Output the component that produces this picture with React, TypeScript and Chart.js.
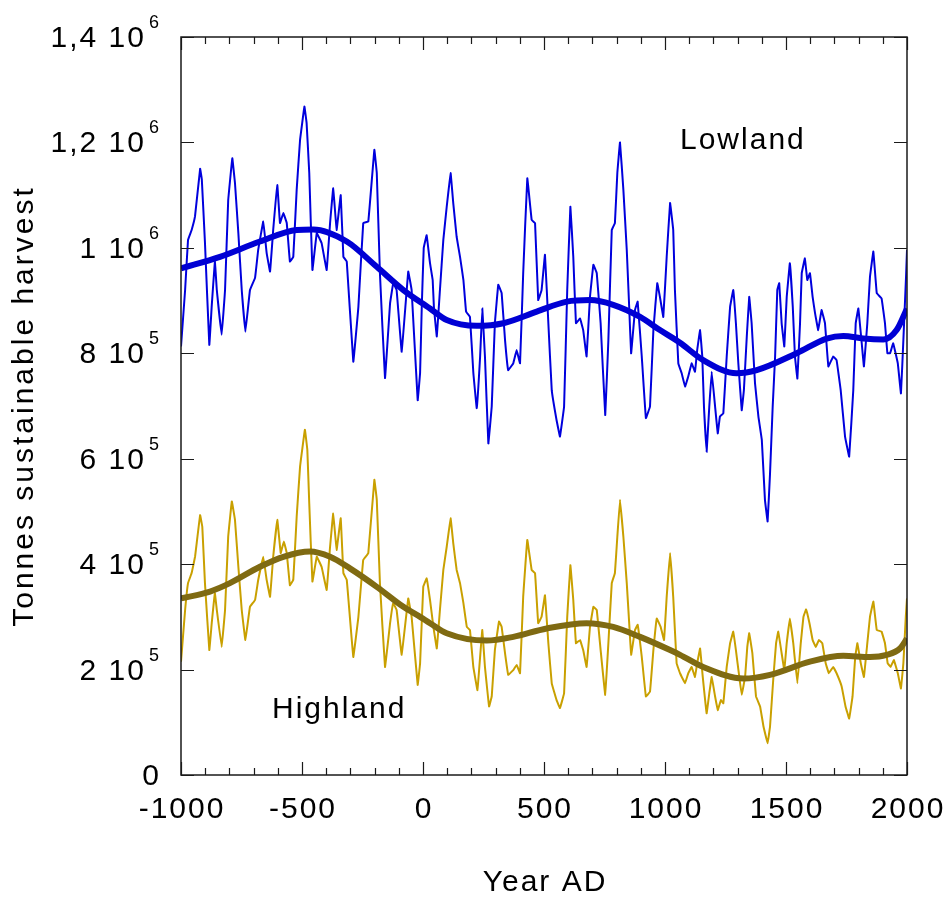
import { useEffect, useRef } from 'react';
import { Chart, registerables } from 'chart.js';

Chart.register(...registerables);

// Values in units of 1e5 tonnes
const LOWLAND: [number, number][] = [
  [-1000, 8.13], [-983, 9.2], [-971, 10.15], [-956, 10.34], [-942, 10.6], [-921, 11.5], [-914, 11.3], [-901, 10.1],
  [-883, 8.16], [-873, 8.9], [-860, 9.74], [-852, 9.2], [-832, 8.35], [-818, 9.2], [-805, 10.9], [-788, 11.7],
  [-777, 11.23], [-763, 10.28], [-749, 9.2], [-734, 8.41], [-715, 9.2], [-694, 9.43], [-681, 9.96], [-660, 10.5],
  [-646, 9.9], [-632, 9.55], [-619, 10.34], [-602, 11.19], [-591, 10.47], [-577, 10.66], [-563, 10.47], [-550, 9.74],
  [-536, 9.83], [-522, 11.1], [-508, 12.05], [-490, 12.68], [-481, 12.37], [-470, 11.42], [-457, 9.58], [-439, 10.28],
  [-419, 10.09], [-398, 9.58], [-384, 10.47], [-371, 11.13], [-357, 10.34], [-340, 11.0], [-329, 9.83], [-315, 9.74],
  [-288, 7.84], [-267, 8.88], [-247, 10.47], [-226, 10.5], [-201, 11.86], [-191, 11.42], [-178, 9.52], [-157, 7.53],
  [-136, 8.95], [-123, 9.33], [-109, 9.2], [-88, 8.03], [-61, 9.55], [-47, 9.2], [-22, 7.11], [-12, 7.63],
  [-5, 8.9], [3, 10.0], [15, 10.24], [29, 9.71], [40, 9.39], [45, 8.88], [57, 8.32], [70, 9.2],
  [84, 10.15], [98, 10.78], [114, 11.42], [125, 10.85], [139, 10.21], [153, 9.83], [167, 9.39], [178, 8.79],
  [194, 8.69], [208, 7.63], [222, 6.96], [236, 7.94], [245, 8.85], [256, 7.94], [270, 6.29], [284, 6.99],
  [297, 8.57], [311, 9.3], [325, 9.14], [339, 8.25], [352, 7.68], [373, 7.81], [387, 8.06], [401, 7.81],
  [414, 9.52], [431, 11.32], [449, 10.53], [463, 10.47], [476, 9.01], [490, 9.2], [504, 9.87], [518, 8.57],
  [532, 7.3], [552, 6.73], [566, 6.42], [583, 6.99], [596, 9.2], [609, 10.78], [621, 9.83], [632, 8.57],
  [649, 8.66], [662, 8.44], [676, 7.94], [690, 9.07], [704, 9.68], [718, 9.52], [734, 8.57], [753, 6.83],
  [766, 8.25], [780, 10.34], [793, 10.47], [803, 11.42], [814, 12.0], [828, 11.1], [842, 9.96], [852, 8.88],
  [860, 8.0], [876, 8.82], [887, 8.98], [904, 7.94], [921, 6.77], [938, 6.99], [952, 8.44], [968, 9.33],
  [979, 9.07], [993, 8.69], [1007, 9.83], [1021, 10.85], [1034, 10.34], [1041, 9.2], [1055, 7.81], [1069, 7.62],
  [1083, 7.37], [1096, 7.56], [1110, 7.81], [1124, 7.65], [1133, 8.06], [1145, 8.44], [1154, 7.94], [1161, 6.99],
  [1172, 6.13], [1183, 6.99], [1193, 7.65], [1207, 6.99], [1218, 6.48], [1227, 6.8], [1241, 6.86], [1255, 7.94],
  [1269, 8.88], [1282, 9.2], [1293, 8.57], [1303, 7.81], [1317, 6.92], [1326, 7.3], [1338, 8.32], [1348, 9.07],
  [1358, 8.57], [1372, 7.43], [1386, 6.8], [1400, 6.36], [1413, 5.22], [1424, 4.81], [1434, 5.72], [1445, 6.99],
  [1455, 7.94], [1464, 9.2], [1472, 9.33], [1482, 8.57], [1493, 8.13], [1503, 9.07], [1516, 9.71], [1528, 8.88],
  [1537, 7.94], [1547, 7.52], [1558, 8.57], [1565, 9.52], [1578, 9.8], [1588, 9.39], [1599, 9.52], [1610, 9.07],
  [1620, 8.76], [1633, 8.44], [1647, 8.82], [1661, 8.57], [1675, 7.75], [1695, 7.94], [1709, 7.87], [1726, 7.3],
  [1744, 6.42], [1761, 6.04], [1778, 7.3], [1788, 8.57], [1799, 8.85], [1813, 8.19], [1822, 7.75], [1836, 8.57],
  [1847, 9.45], [1861, 9.93], [1875, 9.14], [1895, 9.04], [1909, 8.57], [1919, 8.0], [1930, 8.0], [1943, 8.19],
  [1962, 7.81], [1975, 7.24], [1985, 8.25], [1996, 9.45], [2000, 9.96],
];

const LOWLAND_SMOOTH: [number, number][] = [
  [-1000, 9.61], [-839, 9.83], [-674, 10.12], [-522, 10.34], [-453, 10.35], [-315, 10.12], [-191, 9.64], [-81, 9.2],
  [29, 8.85], [98, 8.63], [222, 8.52], [332, 8.57], [470, 8.79], [594, 8.98], [690, 9.01], [786, 8.92],
  [897, 8.69], [979, 8.44], [1062, 8.2], [1158, 7.87], [1296, 7.62], [1379, 7.68], [1544, 8.0], [1668, 8.28],
  [1737, 8.33], [1819, 8.28], [1902, 8.26], [1957, 8.44], [2000, 8.85],
];

const HIGHLAND: [number, number][] = [
  [-1000, 2.15], [-983, 3.13], [-971, 3.64], [-956, 3.83], [-942, 4.14], [-921, 4.93], [-912, 4.71], [-901, 3.64],
  [-883, 2.37], [-873, 2.88], [-860, 3.45], [-852, 3.13], [-832, 2.43], [-818, 3.13], [-805, 4.52], [-790, 5.19],
  [-777, 4.84], [-763, 3.95], [-749, 3.13], [-734, 2.56], [-715, 3.19], [-694, 3.32], [-681, 3.7], [-660, 4.14],
  [-646, 3.7], [-632, 3.38], [-619, 4.14], [-602, 4.84], [-588, 4.21], [-575, 4.43], [-563, 4.21], [-550, 3.6],
  [-536, 3.7], [-522, 4.9], [-508, 5.85], [-488, 6.55], [-478, 6.17], [-470, 5.15], [-457, 3.67], [-439, 4.14],
  [-419, 3.95], [-398, 3.51], [-384, 4.33], [-371, 4.96], [-357, 4.27], [-340, 4.87], [-329, 3.83], [-315, 3.7],
  [-288, 2.24], [-267, 3.0], [-247, 4.08], [-226, 4.21], [-201, 5.6], [-191, 5.22], [-178, 3.64], [-157, 2.05],
  [-136, 2.88], [-123, 3.26], [-109, 3.13], [-88, 2.28], [-61, 3.35], [-47, 3.0], [-22, 1.71], [-12, 2.12],
  [1, 3.57], [15, 3.73], [29, 3.32], [43, 2.81], [57, 2.4], [70, 3.13], [84, 3.89], [98, 4.33],
  [114, 4.87], [125, 4.4], [139, 3.89], [153, 3.64], [167, 3.26], [181, 2.81], [194, 2.75], [208, 2.05],
  [225, 1.61], [236, 2.24], [245, 2.75], [256, 2.05], [273, 1.3], [284, 1.49], [297, 2.37], [314, 2.91],
  [325, 2.81], [339, 2.31], [352, 1.9], [373, 1.99], [387, 2.09], [401, 1.93], [414, 3.38], [431, 4.46],
  [449, 3.89], [463, 3.83], [476, 2.88], [490, 3.0], [504, 3.41], [518, 2.5], [532, 1.74], [552, 1.42],
  [566, 1.27], [583, 1.55], [596, 3.0], [609, 3.98], [621, 3.32], [632, 2.5], [649, 2.56], [662, 2.37],
  [676, 2.05], [690, 2.81], [704, 3.19], [718, 3.13], [734, 2.37], [753, 1.52], [766, 2.5], [780, 3.64],
  [793, 3.83], [803, 4.52], [814, 5.22], [828, 4.52], [842, 3.64], [852, 2.88], [860, 2.28], [876, 2.75],
  [887, 2.85], [904, 2.24], [921, 1.49], [938, 1.58], [952, 2.37], [966, 2.97], [982, 2.81], [996, 2.56],
  [1007, 3.38], [1021, 4.21], [1034, 3.38], [1048, 2.12], [1062, 1.93], [1083, 1.74], [1096, 1.93], [1110, 2.05],
  [1124, 1.86], [1133, 2.12], [1145, 2.4], [1156, 1.86], [1172, 1.17], [1183, 1.55], [1193, 1.86], [1207, 1.49],
  [1218, 1.23], [1231, 1.42], [1241, 1.36], [1255, 2.05], [1269, 2.5], [1282, 2.72], [1293, 2.37], [1307, 1.86],
  [1317, 1.52], [1331, 1.86], [1340, 2.43], [1348, 2.69], [1361, 2.31], [1376, 1.49], [1393, 1.3], [1407, 0.92],
  [1424, 0.6], [1434, 0.92], [1448, 1.86], [1459, 2.5], [1468, 2.72], [1482, 2.31], [1493, 1.99], [1503, 2.5],
  [1516, 2.97], [1530, 2.5], [1547, 1.74], [1561, 2.5], [1572, 3.0], [1583, 3.14], [1597, 2.88], [1610, 2.56],
  [1623, 2.43], [1636, 2.56], [1650, 2.5], [1664, 2.12], [1677, 1.93], [1695, 2.05], [1709, 1.93], [1730, 1.68],
  [1746, 1.3], [1761, 1.07], [1775, 1.49], [1786, 2.24], [1795, 2.5], [1809, 2.12], [1822, 1.86], [1836, 2.5],
  [1847, 3.0], [1861, 3.29], [1875, 2.75], [1895, 2.72], [1909, 2.5], [1920, 2.12], [1932, 2.05], [1946, 2.18],
  [1962, 1.93], [1975, 1.64], [1985, 2.12], [1995, 3.0], [2000, 3.35],
];

const HIGHLAND_SMOOTH: [number, number][] = [
  [-1000, 3.35], [-880, 3.48], [-798, 3.64], [-674, 3.95], [-577, 4.14], [-467, 4.24], [-384, 4.14], [-302, 3.92],
  [-191, 3.57], [-81, 3.19], [-12, 3.0], [29, 2.88], [98, 2.69], [263, 2.55], [373, 2.62], [511, 2.78],
  [676, 2.88], [786, 2.81], [897, 2.62], [1021, 2.37], [1062, 2.28], [1158, 2.05], [1324, 1.83], [1434, 1.9],
  [1599, 2.15], [1737, 2.26], [1847, 2.24], [1916, 2.28], [1971, 2.4], [2000, 2.59],
];

const X_MIN = -1000;
const X_MAX = 2000;
const X_MAJOR_TICKS = [-1000, -500, 0, 500, 1000, 1500, 2000];
const X_MINOR_STEP = 100;
const Y_MIN = 0;
const Y_MAX = 14;
const Y_TICK_VALUES = [0, 2, 4, 6, 8, 10, 12, 14];
const Y_TICK_BASES = ['0', '2 10', '4 10', '6 10', '8 10', '1 10', '1,2 10', '1,4 10'];
const Y_TICK_EXPS = ['', '5', '5', '5', '5', '6', '6', '6'];

const X_TITLE = 'Year AD';
const Y_TITLE = 'Tonnes sustainable harvest';
const LABEL_LOWLAND = 'Lowland';
const LABEL_HIGHLAND = 'Highland';

const FONT = '"Liberation Sans", Arial, Helvetica, sans-serif';

const toPoints = (arr: [number, number][]) => arr.map(([x, y]) => ({ x, y }));

const axesPlugin = {
  id: 'customAxes',
  afterDatasetsDraw(chart: any) {
    const { ctx, chartArea, scales } = chart;
    const { left, right, top, bottom } = chartArea;
    const xs = scales.x;
    const ys = scales.y;
    ctx.save();
    ctx.strokeStyle = '#1a1a1a';
    ctx.lineWidth = 1.5;
    ctx.strokeRect(left, top, right - left, bottom - top);

    ctx.lineWidth = 1.2;
    ctx.beginPath();
    for (let v = X_MIN; v <= X_MAX; v += X_MINOR_STEP) {
      const px = Math.round(xs.getPixelForValue(v)) + 0.5;
      const len = X_MAJOR_TICKS.includes(v) ? 13 : 7;
      ctx.moveTo(px, bottom);
      ctx.lineTo(px, bottom - len);
      ctx.moveTo(px, top);
      ctx.lineTo(px, top + len);
    }
    Y_TICK_VALUES.forEach((v) => {
      const py = Math.round(ys.getPixelForValue(v)) + 0.5;
      ctx.moveTo(left, py);
      ctx.lineTo(left + 13, py);
      ctx.moveTo(right, py);
      ctx.lineTo(right - 13, py);
    });
    ctx.stroke();

    ctx.fillStyle = '#000';
    ctx.font = `30px ${FONT}`;
    (ctx as any).letterSpacing = '2px';
    ctx.textBaseline = 'alphabetic';
    ctx.textAlign = 'center';
    X_MAJOR_TICKS.forEach((v) => {
      const px = xs.getPixelForValue(v);
      ctx.fillText(String(v), px + 1, bottom + 43);
    });

    Y_TICK_VALUES.forEach((v, i) => {
      const py = ys.getPixelForValue(v);
      const base = Y_TICK_BASES[i];
      const exp = Y_TICK_EXPS[i];
      const rightEdge = 161;
      if (exp) {
        ctx.font = `18px ${FONT}`;
        ctx.textAlign = 'right';
        ctx.fillText(exp, rightEdge, py - 9);
        const w = ctx.measureText(exp).width;
        ctx.font = `30px ${FONT}`;
        ctx.fillText(base, rightEdge - w - 3, py + 10);
      } else {
        ctx.font = `30px ${FONT}`;
        ctx.textAlign = 'right';
        ctx.fillText(base, rightEdge, py + 10);
      }
    });

    ctx.font = `30px ${FONT}`;
    ctx.textAlign = 'center';
    ctx.textBaseline = 'middle';
    ctx.fillText(X_TITLE, (left + right) / 2 + 1, 883);

    ctx.save();
    (ctx as any).letterSpacing = '3px';
    ctx.translate(25, 406);
    ctx.rotate(-Math.PI / 2);
    ctx.fillText(Y_TITLE, 0, 0);
    ctx.restore();

    ctx.textAlign = 'left';
    ctx.textBaseline = 'alphabetic';
    ctx.fillText(LABEL_LOWLAND, 680, 149);
    ctx.fillText(LABEL_HIGHLAND, 272, 718);
    ctx.restore();
  },
};

export default function App() {
  const canvasRef = useRef<HTMLCanvasElement | null>(null);

  useEffect(() => {
    const canvas = canvasRef.current;
    if (!canvas) return;
    const chart = new Chart(canvas, {
      type: 'line',
      data: {
        datasets: [
          {
            label: 'Lowland smooth',
            data: toPoints(LOWLAND_SMOOTH),
            borderColor: '#0000d4',
            borderWidth: 6,
            pointRadius: 0,
            cubicInterpolationMode: 'monotone',
            order: 0,
          },
          {
            label: 'Highland smooth',
            data: toPoints(HIGHLAND_SMOOTH),
            borderColor: '#7f6a12',
            borderWidth: 6,
            pointRadius: 0,
            cubicInterpolationMode: 'monotone',
            order: 0,
          },
          {
            label: 'Lowland',
            data: toPoints(LOWLAND),
            borderColor: '#0000dd',
            borderWidth: 2,
            pointRadius: 0,
            tension: 0.05,
            order: 1,
          },
          {
            label: 'Highland',
            data: toPoints(HIGHLAND),
            borderColor: '#c9a000',
            borderWidth: 2,
            pointRadius: 0,
            tension: 0.05,
            order: 1,
          },
        ],
      },
      options: {
        animation: false,
        responsive: false,
        devicePixelRatio: 1,
        parsing: false as any,
        layout: { padding: { left: 181, right: 39, top: 37, bottom: 123 } },
        plugins: { legend: { display: false }, tooltip: { enabled: false } },
        scales: {
          x: { type: 'linear', min: X_MIN, max: X_MAX, display: false },
          y: { type: 'linear', min: Y_MIN, max: Y_MAX, display: false },
        },
      },
      plugins: [axesPlugin],
    });
    return () => chart.destroy();
  }, []);

  return (
    <div style={{ position: 'absolute', left: 0, top: 0, width: 946, height: 898, background: '#fff' }}>
      <canvas ref={canvasRef} width={946} height={898} style={{ display: 'block' }} />
    </div>
  );
}
